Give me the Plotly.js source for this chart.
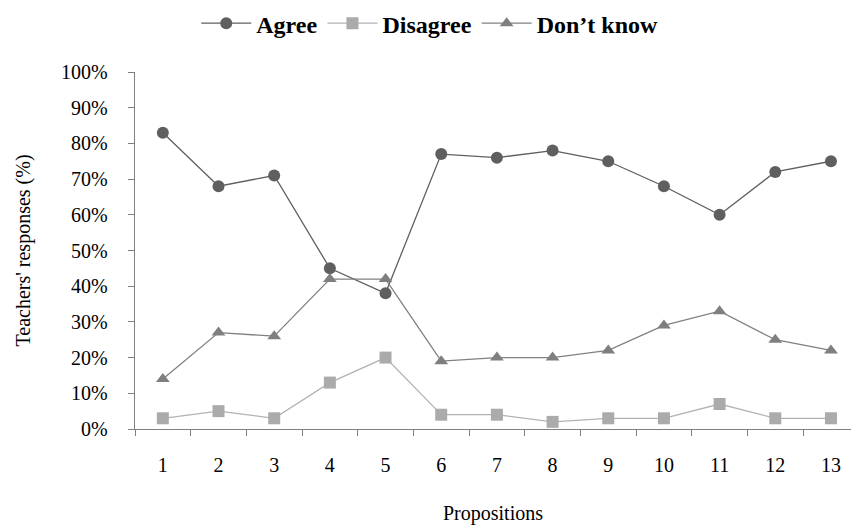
<!DOCTYPE html>
<html><head><meta charset="utf-8">
<script src="https://cdn.plot.ly/plotly-3.0.1.min.js"></script>
<style>html,body{margin:0;padding:0;background:#fff}#c{width:851px;height:526px}</style>
</head><body><div id="c"></div>
<script>
const propositions = ['1','2','3','4','5','6','7','8','9','10','11','12','13'];
const agree = [83, 68, 71, 45, 38, 77, 76, 78, 75, 68, 60, 72, 75];
const disagree = [3, 5, 3, 13, 20, 4, 4, 2, 3, 3, 7, 3, 3];
const dontKnow = [14, 27, 26, 42, 42, 19, 20, 20, 22, 29, 33, 25, 22];
const yTicks = [0,10,20,30,40,50,60,70,80,90,100];
const yTickText = yTicks.map(v => v + '%');

const serif = 'Liberation Serif';
const traces = [
  {x: propositions, y: agree, name: 'Agree', mode: 'lines+markers', type: 'scatter',
   line: {color: '#5f5f5f', width: 1.3}, marker: {symbol: 'circle', size: 12, color: '#5f5f5f'}},
  {x: propositions, y: disagree, name: 'Disagree', mode: 'lines+markers', type: 'scatter',
   line: {color: '#b3b3b3', width: 1.3}, marker: {symbol: 'square', size: 12, color: '#ababab'}},
  {x: propositions, y: dontKnow, name: 'Don’t know', mode: 'lines+markers', type: 'scatter',
   line: {color: '#808080', width: 1.3}, marker: {symbol: 'triangle-up', size: 12, color: '#7f7f7f'}}
];
const layout = {
  width: 851, height: 526,
  margin: {l: 135, r: 0, t: 72, b: 97},
  paper_bgcolor: '#fff', plot_bgcolor: '#fff',
  font: {family: serif, size: 19, color: '#000'},
  showlegend: true,
  legend: {orientation: 'h', x: 0.505, xref: 'container', xanchor: 'center', y: 0.998, yref: 'container', yanchor: 'top',
           font: {family: serif, size: 24, color: '#000', weight: 'bold'}, itemwidth: 50, tracegroupgap: 0},
  xaxis: {type: 'category', range: [-0.5, 12.36], tickson: 'boundaries', ticks: 'outside', ticklen: 6,
          tickcolor: '#808080', showline: true, linecolor: '#808080', linewidth: 1.3, showgrid: false,
          zeroline: false, ticklabelstandoff: 18, tickfont: {family: serif, size: 20},
          title: {text: 'Propositions', font: {family: serif, size: 20}, standoff: 30}},
  yaxis: {range: [0, 100], tickvals: yTicks, ticktext: yTickText, ticks: 'outside', ticklen: 6,
          tickcolor: '#808080', showline: true, linecolor: '#808080', linewidth: 1.3, showgrid: false,
          zeroline: false, ticklabelstandoff: 16, tickfont: {family: serif, size: 20},
          title: {text: 'Teachers\' responses (%)', font: {family: serif, size: 20}, standoff: 25}}
};
Plotly.newPlot('c', traces, layout, {displayModeBar: false, staticPlot: true});
</script></body></html>
